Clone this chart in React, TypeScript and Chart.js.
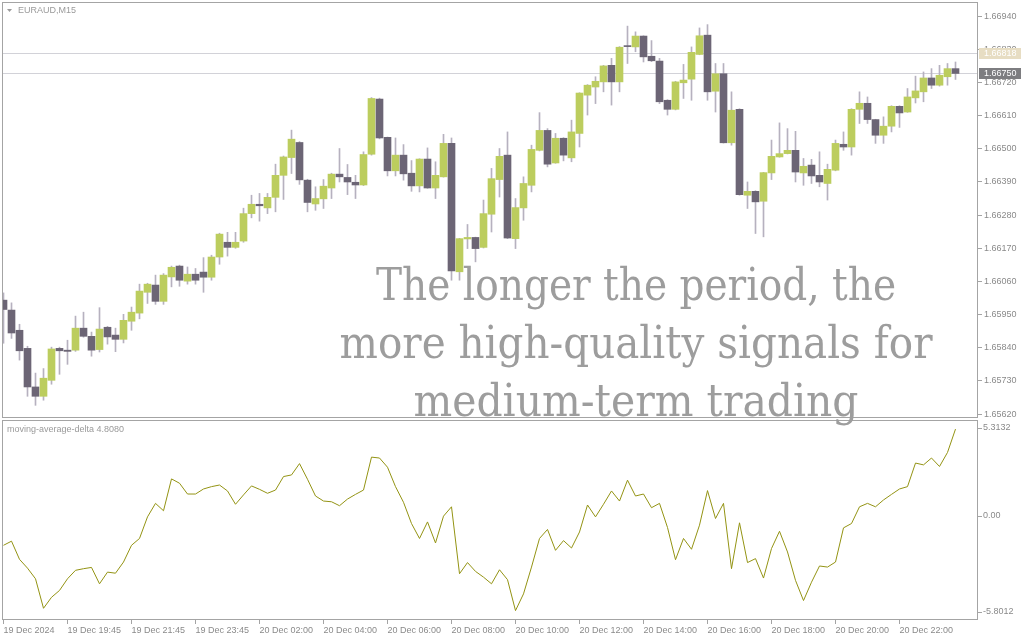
import React, { useEffect, useRef } from 'react';
import { Chart, registerables } from 'chart.js';

Chart.register(...registerables);

// ---------- data ----------
const opens = [
  1.65998, 1.65965, 1.65898, 1.65838, 1.6571, 1.65679, 1.65732, 1.65838, 1.65832, 1.65832,
  1.65905, 1.65878, 1.65834, 1.65908, 1.65882, 1.65868, 1.65928, 1.65955, 1.66024, 1.66048,
  1.65994, 1.66075, 1.66111, 1.66061, 1.66084, 1.66091, 1.66074, 1.66141, 1.6619, 1.66173,
  1.66194, 1.66285, 1.66316, 1.66304, 1.66339, 1.66412, 1.66471, 1.66521, 1.66396, 1.66317,
  1.66334, 1.6637, 1.66416, 1.66405, 1.66389, 1.6638, 1.66482, 1.66665, 1.66538, 1.66427,
  1.66479, 1.66419, 1.66377, 1.66466, 1.6637, 1.66407, 1.66518, 1.66092, 1.66201, 1.66206,
  1.66173, 1.66283, 1.66398, 1.66479, 1.66202, 1.66304, 1.66379, 1.66495, 1.66561, 1.66453,
  1.66535, 1.6647, 1.66551, 1.66678, 1.66705, 1.66722, 1.66777, 1.66722, 1.66841, 1.66838,
  1.66874, 1.66807, 1.66791, 1.66661, 1.66631, 1.66719, 1.66731, 1.66813, 1.66877, 1.66691,
  1.66749, 1.6652, 1.66631, 1.66346, 1.66359, 1.66326, 1.6642, 1.66473, 1.66484, 1.66495,
  1.6642, 1.66446, 1.66412, 1.66385, 1.66429, 1.66515, 1.66506, 1.66631, 1.66651, 1.66597,
  1.66545, 1.66575, 1.66641, 1.66622, 1.66669, 1.66689, 1.66735, 1.66711, 1.66739, 1.66766,
];
const highs = [
  1.66022, 1.65989, 1.65918, 1.65845, 1.65756, 1.65771, 1.65842, 1.65842, 1.65865, 1.65945,
  1.65958, 1.65892, 1.65973, 1.65911, 1.65905, 1.65951, 1.65975, 1.66051, 1.66054, 1.66081,
  1.66086, 1.66111, 1.66114, 1.66108, 1.66103, 1.66139, 1.66147, 1.6622, 1.66223, 1.66223,
  1.66303, 1.66346, 1.66352, 1.66352, 1.66449, 1.66476, 1.66562, 1.66524, 1.66399, 1.66374,
  1.66398, 1.66419, 1.66501, 1.66448, 1.66412, 1.6649, 1.6667, 1.66668, 1.66539, 1.66536,
  1.66514, 1.66461, 1.66467, 1.66503, 1.66457, 1.66548, 1.66536, 1.66203, 1.66249, 1.66207,
  1.6633, 1.66435, 1.66501, 1.66556, 1.66335, 1.66407, 1.66512, 1.6662, 1.66567, 1.66551,
  1.66537, 1.66595, 1.66686, 1.66713, 1.66739, 1.66777, 1.668, 1.66839, 1.66907, 1.66888,
  1.66875, 1.66859, 1.668, 1.66663, 1.66724, 1.6678, 1.66838, 1.66901, 1.66912, 1.66783,
  1.66783, 1.66689, 1.66633, 1.6639, 1.66361, 1.66422, 1.66529, 1.66586, 1.66567, 1.66558,
  1.66468, 1.66465, 1.6649, 1.66449, 1.66529, 1.66556, 1.66633, 1.66689, 1.66672, 1.66598,
  1.66606, 1.66643, 1.66643, 1.667, 1.66741, 1.66755, 1.66766, 1.66777, 1.66783, 1.66788,
];
const lows = [
  1.65855, 1.65871, 1.65799, 1.65679, 1.65649, 1.65666, 1.65719, 1.65752, 1.65785, 1.65828,
  1.65875, 1.65812, 1.65826, 1.65852, 1.65827, 1.65856, 1.65898, 1.65936, 1.65987, 1.65984,
  1.65984, 1.66042, 1.66044, 1.66051, 1.66051, 1.66024, 1.66064, 1.66117, 1.66144, 1.6617,
  1.6619, 1.66271, 1.6626, 1.66285, 1.66291, 1.66332, 1.66418, 1.66382, 1.66291, 1.66296,
  1.66302, 1.66335, 1.6639, 1.66348, 1.66335, 1.66378, 1.66479, 1.66533, 1.6641, 1.6641,
  1.66396, 1.66359, 1.66357, 1.66369, 1.66335, 1.66406, 1.66064, 1.66064, 1.66169, 1.66125,
  1.66171, 1.66224, 1.6634, 1.66202, 1.66169, 1.66263, 1.66357, 1.66493, 1.6644, 1.66452,
  1.6646, 1.66457, 1.66506, 1.66612, 1.6665, 1.66689, 1.66645, 1.66689, 1.66783, 1.66822,
  1.66788, 1.66789, 1.6665, 1.66612, 1.66629, 1.66667, 1.66661, 1.66812, 1.66661, 1.66622,
  1.66519, 1.66512, 1.66346, 1.66302, 1.66219, 1.66208, 1.66398, 1.66472, 1.66483, 1.6639,
  1.66379, 1.66385, 1.66374, 1.6633, 1.66427, 1.66495, 1.66479, 1.66584, 1.66584, 1.66518,
  1.66518, 1.66556, 1.66571, 1.66621, 1.66652, 1.66656, 1.667, 1.66708, 1.66711, 1.6673,
];
const closes = [
  1.65967, 1.65889, 1.6583, 1.6571, 1.65679, 1.65739, 1.65836, 1.6583, 1.65828, 1.65905,
  1.65878, 1.65832, 1.65902, 1.65876, 1.65868, 1.65931, 1.65958, 1.66028, 1.66051, 1.65994,
  1.66081, 1.66107, 1.66064, 1.66084, 1.66064, 1.66074, 1.66141, 1.66217, 1.66173, 1.6619,
  1.66285, 1.66316, 1.66311, 1.66339, 1.66412, 1.66473, 1.66532, 1.66397, 1.66322, 1.66335,
  1.66376, 1.66416, 1.66407, 1.6639, 1.6638, 1.66481, 1.66667, 1.66536, 1.66427, 1.66479,
  1.66417, 1.66377, 1.66466, 1.6637, 1.66412, 1.66518, 1.66095, 1.66202, 1.66206, 1.66169,
  1.66285, 1.66401, 1.66475, 1.66204, 1.66305, 1.66385, 1.66498, 1.66561, 1.66449, 1.66535,
  1.66479, 1.66556, 1.66685, 1.66711, 1.66724, 1.66775, 1.66722, 1.66837, 1.66839, 1.66874,
  1.66805, 1.66792, 1.66656, 1.66631, 1.66722, 1.66728, 1.6682, 1.66875, 1.66689, 1.66749,
  1.6652, 1.66628, 1.66348, 1.66359, 1.66324, 1.66421, 1.66475, 1.66484, 1.66495, 1.66423,
  1.66442, 1.6641, 1.6639, 1.66432, 1.66518, 1.66506, 1.66631, 1.66651, 1.66597, 1.66545,
  1.66575, 1.66641, 1.66619, 1.66672, 1.66692, 1.66735, 1.66711, 1.66744, 1.66766, 1.6675,
];
const deltaValues = [
  -1.65, -1.42, -2.43, -2.92, -3.51, -5.15, -4.54, -4.16, -3.51, -3.04,
  -2.95, -2.88, -3.79, -3.14, -3.2, -2.58, -1.65, -1.27, -0.07, 0.68,
  0.27, 2.04, 1.8, 1.2, 1.2, 1.48, 1.61, 1.7, 1.37, 0.63,
  1.15, 1.65, 1.46, 1.24, 1.42, 2.17, 2.26, 2.89, 2.02, 1.09,
  0.81, 0.77, 0.55, 0.92, 1.18, 1.42, 3.25, 3.2, 2.69, 1.61,
  0.74, -0.44, -1.27, -0.35, -1.52, -0.03, 0.49, -3.23, -2.61, -3.1,
  -3.42, -3.79, -3.01, -3.56, -5.28, -4.35, -2.86, -1.27, -0.77, -1.93,
  -1.39, -1.8, -0.91, 0.59, -0.07, 0.63, 1.37, 0.81, 1.97, 1.09,
  1.2, 0.44, 0.68, -0.66, -2.45, -1.27, -1.87, -0.53, 1.39, -0.16,
  0.68, -2.95, -0.4, -2.61, -2.39, -3.47, -1.83, -0.87, -2.02, -3.6,
  -4.72, -3.7, -2.8, -2.86, -2.58, -0.68, -0.44, 0.49, 0.68, 0.49,
  0.87, 1.18, 1.48, 1.61, 2.92, 2.82, 3.2, 2.73, 3.51, 4.808,
];
const timeTickBars = [0, 8, 16, 24, 32, 40, 48, 56, 64, 72, 80, 88, 96, 104, 112];
const timeLabels = [
  '19 Dec 2024', '19 Dec 19:45', '19 Dec 21:45', '19 Dec 23:45', '20 Dec 02:00',
  '20 Dec 04:00', '20 Dec 06:00', '20 Dec 08:00', '20 Dec 10:00', '20 Dec 12:00',
  '20 Dec 14:00', '20 Dec 16:00', '20 Dec 18:00', '20 Dec 20:00', '20 Dec 22:00',
];
const priceTicks = [
  1.6562, 1.6573, 1.6584, 1.6595, 1.6606, 1.6617, 1.6628, 1.6639, 1.665, 1.6661, 1.6672, 1.6683, 1.6694,
];
const levelPrices = [1.66818, 1.6675];
const deltaAxisValues = [5.3132, 0, -5.8012];
const symbolTitle = 'EURAUD,M15';
const indicatorTitle = 'moving-average-delta 4.8080';
const overlayLines = ['The longer the period, the', 'more high-quality signals for', 'medium-term trading'];

// ---------- style ----------
const GREEN = '#bccd5e';
const DARK = '#6c6575';
const WICK = '#b6b1bf';
const FRAME = '#a4a4a4';
const LEVEL = '#d2d2d8';
const TEXT = '#8a8a8a';
const OLIVE = '#939313';
const FONT = "'Liberation Sans', Arial, sans-serif";
const X_MIN = -0.1875;
const X_MAX = 121.8125;
const overlayWidths = [520, 593, 445];
const overlayBaselines = [300, 358, 416];
const levelBoxColors = ['#e7ddc3', '#7d7d80'];

function drawFrame(chart: any) {
  const { ctx, chartArea: a } = chart;
  ctx.save();
  ctx.strokeStyle = FRAME;
  ctx.lineWidth = 1;
  ctx.strokeRect(a.left + 0.5, a.top + 0.5, a.right - a.left - 1, a.bottom - a.top - 1);
  ctx.restore();
}

const mainDecor = {
  id: 'mainDecor',
  beforeDatasetsDraw(chart: any) {
    const { ctx, chartArea: a, scales } = chart;
    ctx.save();
    ctx.strokeStyle = LEVEL;
    ctx.lineWidth = 1;
    levelPrices.forEach((p) => {
      const py = Math.round(scales.y.getPixelForValue(p)) + 0.5;
      ctx.beginPath();
      ctx.moveTo(a.left, py);
      ctx.lineTo(a.right, py);
      ctx.stroke();
    });
    ctx.restore();
  },
  afterDraw(chart: any) {
    const { ctx, chartArea: a, scales } = chart;
    drawFrame(chart);
    ctx.save();
    // price boxes
    levelPrices.forEach((p, i) => {
      const py = Math.round(scales.y.getPixelForValue(p));
      ctx.fillStyle = levelBoxColors[i];
      ctx.fillRect(a.right + 1, py - 5, 42, 11);
      ctx.fillStyle = '#ffffff';
      ctx.font = `9px ${FONT}`;
      ctx.textBaseline = 'middle';
      ctx.textAlign = 'left';
      ctx.fillText(p.toFixed(5), a.right + 6, py + 0.5);
    });
    // title
    ctx.fillStyle = '#9a9a9a';
    ctx.beginPath();
    ctx.moveTo(7, 9);
    ctx.lineTo(12, 9);
    ctx.lineTo(9.5, 12);
    ctx.closePath();
    ctx.fill();
    ctx.font = `9px ${FONT}`;
    ctx.textBaseline = 'middle';
    ctx.fillText(symbolTitle, 18, 11);
    // overlay caption
    ctx.fillStyle = '#9d9d9d';
    ctx.font = "44px 'DejaVu Serif', serif";
    ctx.textAlign = 'center';
    ctx.textBaseline = 'alphabetic';
    overlayLines.forEach((t, i) => {
      ctx.fillText(t, 636, overlayBaselines[i], overlayWidths[i]);
    });
    ctx.restore();
  },
};

const subDecor = {
  id: 'subDecor',
  afterDraw(chart: any) {
    const { ctx, chartArea: a, scales } = chart;
    drawFrame(chart);
    ctx.save();
    ctx.fillStyle = TEXT;
    ctx.strokeStyle = FRAME;
    ctx.font = `9px ${FONT}`;
    ctx.textAlign = 'left';
    deltaAxisValues.forEach((v, i) => {
      const py = scales.y.getPixelForValue(v);
      let ty = py;
      if (i === 0) ty = a.top + 8;
      if (i === deltaAxisValues.length - 1) ty = a.bottom - 8;
      ctx.beginPath();
      ctx.moveTo(a.right, Math.round(ty) + 0.5);
      ctx.lineTo(a.right + 4, Math.round(ty) + 0.5);
      ctx.stroke();
      ctx.textBaseline = 'middle';
      ctx.fillText(v === 0 ? '0.00' : v.toFixed(4), a.right + 5, ty);
    });
    ctx.fillStyle = '#9a9a9a';
    ctx.fillText(indicatorTitle, 7, a.top + 10);
    ctx.restore();
  },
};

export default function App() {
  const mainRef = useRef<HTMLCanvasElement>(null);
  const subRef = useRef<HTMLCanvasElement>(null);

  useEffect(() => {
    const idx = opens.map((_, i) => i);
    const bodyData = idx.map((i) => ({ x: i, y: [opens[i], closes[i]] }));
    const wickData = idx.map((i) => ({ x: i, y: [lows[i], highs[i]] }));
    const bodyColors = idx.map((i) => (closes[i] >= opens[i] ? GREEN : DARK));

    const xTicks = (s: any) => {
      s.ticks = timeTickBars.map((v) => ({ value: v }));
    };

    const main = new Chart(mainRef.current as HTMLCanvasElement, {
      type: 'bar',
      data: {
        datasets: [
          {
            data: bodyData as any,
            backgroundColor: bodyColors,
            borderWidth: 0,
            grouped: false,
            categoryPercentage: 1,
            barPercentage: 1,
            maxBarThickness: 7,
            minBarLength: 1,
            order: 0,
          } as any,
          {
            data: wickData as any,
            backgroundColor: WICK,
            borderWidth: 0,
            grouped: false,
            categoryPercentage: 1,
            barPercentage: 1,
            maxBarThickness: 1,
            order: 1,
          } as any,
        ],
      },
      options: {
        animation: false,
        responsive: false,
        maintainAspectRatio: false,
        events: [],
        layout: { padding: { left: 2, top: 2, right: 0, bottom: 222 } },
        plugins: { legend: { display: false }, tooltip: { enabled: false } },
        scales: {
          x: {
            type: 'linear',
            min: X_MIN,
            max: X_MAX,
            display: false,
            offset: false,
            afterBuildTicks: xTicks,
          },
          y: {
            type: 'linear',
            position: 'right',
            min: 1.65607,
            max: 1.66987,
            afterFit: (s: any) => {
              s.width = 46;
              s.paddingTop = 0;
              s.paddingBottom = 0;
            },
            afterBuildTicks: (s: any) => {
              s.ticks = priceTicks.map((v) => ({ value: v }));
            },
            grid: { drawOnChartArea: false, drawTicks: true, tickLength: 4, color: FRAME },
            border: { display: false },
            ticks: {
              autoSkip: false,
              padding: 2,
              color: TEXT,
              font: { family: FONT, size: 9 },
              callback: (v: any) => Number(v).toFixed(5),
            },
          },
        },
      } as any,
      plugins: [mainDecor],
    });

    const sub = new Chart(subRef.current as HTMLCanvasElement, {
      type: 'line',
      data: {
        datasets: [
          {
            data: deltaValues.map((v, i) => ({ x: i, y: v })),
            borderColor: OLIVE,
            borderWidth: 1,
            pointRadius: 0,
            tension: 0,
            fill: false,
          },
        ],
      },
      options: {
        animation: false,
        responsive: false,
        maintainAspectRatio: false,
        events: [],
        layout: { padding: { left: 2, top: 420, right: 0, bottom: 0 } },
        plugins: { legend: { display: false }, tooltip: { enabled: false } },
        scales: {
          x: {
            type: 'linear',
            min: X_MIN,
            max: X_MAX,
            offset: false,
            afterBuildTicks: xTicks,
            afterFit: (s: any) => {
              s.height = 20;
              s.paddingLeft = 0;
              s.paddingRight = 0;
            },
            grid: { drawOnChartArea: false, drawTicks: true, tickLength: 4, color: FRAME },
            border: { display: false },
            ticks: {
              autoSkip: false,
              maxRotation: 0,
              minRotation: 0,
              align: 'start',
              padding: 1,
              color: TEXT,
              font: { family: FONT, size: 9 },
              callback: (_v: any, i: number) => timeLabels[i],
            },
          },
          y: {
            type: 'linear',
            position: 'right',
            min: -5.8012,
            max: 5.3132,
            afterFit: (s: any) => {
              s.width = 46;
              s.paddingTop = 0;
              s.paddingBottom = 0;
            },
            grid: { display: false },
            border: { display: false },
            ticks: { display: false },
          },
        },
      } as any,
      plugins: [subDecor],
    });

    return () => {
      main.destroy();
      sub.destroy();
    };
  }, []);

  const canvasStyle: React.CSSProperties = {
    position: 'absolute',
    left: 0,
    top: 0,
    width: 1024,
    height: 640,
  };

  return (
    <div
      style={{
        position: 'fixed',
        left: 0,
        top: 0,
        width: 1024,
        height: 640,
        background: '#ffffff',
        overflow: 'hidden',
      }}
    >
      <canvas ref={subRef} width={1024} height={640} style={{ ...canvasStyle, zIndex: 1 }} />
      <canvas ref={mainRef} width={1024} height={640} style={{ ...canvasStyle, zIndex: 2 }} />
    </div>
  );
}
